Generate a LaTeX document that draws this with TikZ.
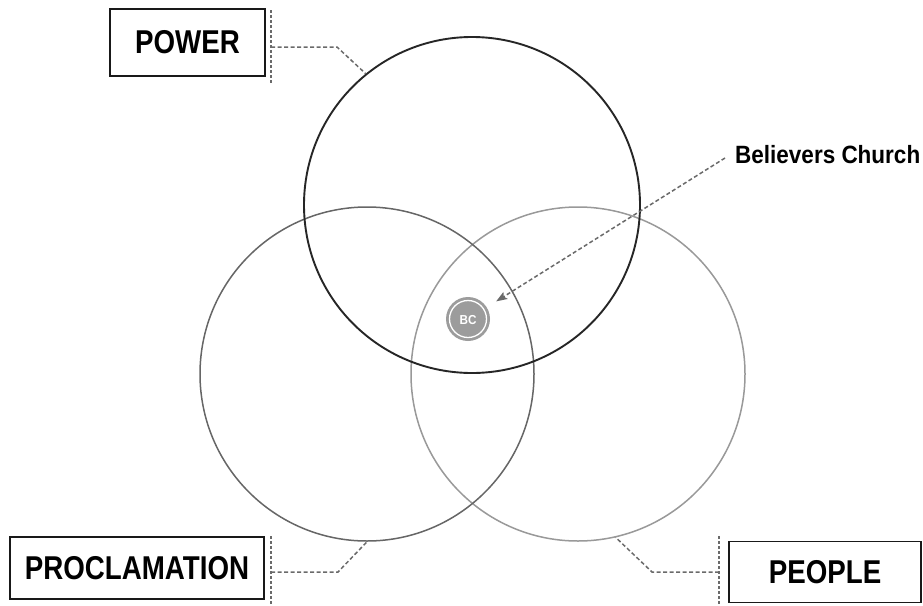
\documentclass[tikz,border=0pt]{standalone}
\usepackage{fontspec}
\usetikzlibrary{arrows.meta}
\newfontfamily\lblfont[FakeStretch=0.84]{Liberation Sans}
\newfontfamily\bcfont[FakeStretch=0.9]{Liberation Sans}
\definecolor{dashgray}{HTML}{6A6A6A}
\definecolor{bcgray}{HTML}{9C9C9C}
\begin{document}
\begin{tikzpicture}[x=1pt,y=-1pt,
  labelbox/.style={draw=black!90,line width=1.6pt,inner sep=0pt,font=\lblfont\bfseries\fontsize{33}{33}\selectfont},
  ring/.style={circle,inner sep=0pt,minimum size=#1},
  leader/.style={draw=dashgray,line width=1.5pt,dash pattern=on 4pt off 2.5pt},
  tick/.style={draw=dashgray,line width=1.2pt,dash pattern=on 3pt off 2pt}]
\useasboundingbox (0,0) rectangle (923,605);
\fill[white] (0,0) rectangle (923,605);
% circles
\node[ring=334,draw=black!40,line width=1.5pt] (people) at (578,374) {};
\node[ring=334,draw=black!60,line width=1.5pt] (procl) at (367,374) {};
\node[ring=336,draw=black!85,line width=1.9pt] (power) at (472,205) {};
% BC
\node[ring=44,fill=bcgray] (bc) at (468,319) {};
\draw[white,line width=1.3pt] (bc.center) circle[radius=18.5];
\node[text=white,font=\bcfont\bfseries\fontsize{13}{13}\selectfont] (bctext) at (468,320) {BC};
% boxes
\node[labelbox,minimum width=155,minimum height=67] (powerbox) at (187.5,42.5) {POWER};
\node[labelbox,minimum width=254,minimum height=62] (proclbox) at (137,568) {PROCLAMATION};
\node[labelbox,minimum width=192,minimum height=61] (peoplebox) at (825,572) {PEOPLE};
% ticks
\coordinate (t1a) at (271,10); \coordinate (t1b) at (271,83);
\coordinate (t2a) at (271,536); \coordinate (t2b) at (271,605);
\coordinate (t3a) at (719,536); \coordinate (t3b) at (719,605);
\draw[tick] (t1a) -- (t1b);
\draw[tick] (t2a) -- (t2b);
\draw[tick] (t3a) -- (t3b);
% leaders
\coordinate (l1) at (271,47); \coordinate (k1) at (337,47);
\coordinate (l2) at (271,572); \coordinate (k2) at (338,572);
\coordinate (l3) at (719,572); \coordinate (k3) at (652,572);
\draw[leader] (l1) -- (k1) -- (power.129);
\draw[leader] (l2) -- (k2) -- (procl.south);
\draw[leader] (l3) -- (k3) -- (people.283);
% Believers Church
\node[anchor=west,font=\bcfont\bfseries\fontsize{25}{25}\selectfont,inner sep=0pt] (bclabel) at (735,155) {Believers Church};
\coordinate (bcstart) at (725,158);
\draw[leader,-{Stealth[length=11pt,width=8pt,inset=2pt]},shorten >=11pt] (bcstart) -- (bc);
\end{tikzpicture}
\end{document}
